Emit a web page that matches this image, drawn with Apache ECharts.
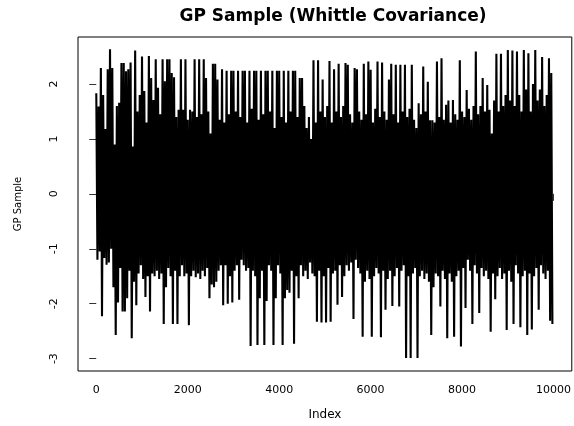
<!DOCTYPE html>
<html>
<head>
<meta charset="utf-8">
<script src="https://cdn.jsdelivr.net/npm/echarts@6/dist/echarts.min.js"></script>
<style>
  html, body { margin: 0; padding: 0; background: #fff; }
  #chart { width: 574px; height: 426px; }
</style>
</head>
<body>
<div id="chart"></div>
<script>
// upper turning points of the sample, read left to right off the picture
const highs = [
  1.83, 1.59, 2.29, 1.80, 1.18, 2.27, 2.63, 2.29, 0.90, 1.60,
  1.66, 2.38, 2.38, 2.23, 2.27, 2.39, 0.86, 2.61, 1.50, 1.80,
  2.50, 1.87, 1.30, 2.51, 2.11, 1.71, 2.45, 1.93, 1.45, 2.45,
  2.05, 2.45, 2.45, 2.20, 2.12, 1.40, 1.53, 2.45, 1.53, 2.45,
  1.35, 1.53, 1.50, 2.45, 1.40, 2.45, 1.45, 2.45, 2.11, 1.50,
  1.10, 2.37, 2.37, 2.08, 1.35, 2.27, 1.30, 2.24, 1.45, 2.24,
  2.24, 1.50, 2.24, 1.40, 2.24, 2.24, 1.30, 2.24, 1.55, 2.24,
  2.24, 1.35, 2.24, 1.45, 2.24, 2.24, 1.50, 2.24, 1.20, 2.24,
  2.24, 1.40, 2.24, 1.30, 2.24, 1.50, 2.24, 2.24, 1.40, 2.11,
  2.11, 1.60, 1.20, 1.40, 1.00, 2.43, 1.30, 2.43, 1.50, 2.08,
  1.40, 1.60, 2.42, 1.30, 2.27, 1.50, 2.37, 1.40, 1.60, 2.38,
  2.35, 1.45, 1.30, 2.29, 2.27, 1.50, 1.35, 2.37, 1.45, 2.41,
  2.26, 1.30, 1.55, 2.41, 1.40, 2.39, 1.50, 1.35, 2.08, 2.37,
  1.45, 2.35, 1.30, 2.35, 1.50, 2.35, 1.40, 1.55, 2.35, 1.35,
  1.20, 1.65, 1.45, 2.32, 1.50, 2.04, 1.34, 1.34, 1.30, 2.41,
  1.40, 2.47, 1.35, 1.62, 1.70, 1.30, 1.71, 1.45, 1.35, 2.43,
  1.50, 1.40, 1.89, 1.55, 1.35, 1.60, 2.59, 1.45, 1.60, 2.11,
  1.50, 1.98, 1.53, 1.10, 1.70, 2.55, 1.50, 2.55, 1.60, 1.80,
  2.62, 1.70, 2.61, 1.60, 2.59, 1.80, 1.50, 2.62, 1.90, 2.56,
  1.50, 2.00, 2.62, 1.70, 1.90, 2.49, 1.60, 1.80, 2.47, 2.20
];
// lower turning points, same order
const lows = [
  -1.20, -1.05, -2.23, -1.17, -1.29, -1.25, -1.00, -1.70, -2.57, -1.98,
  -1.35, -2.14, -2.14, -1.90, -1.40, -2.63, -1.60, -2.03, -1.45, -1.30,
  -1.55, -1.88, -1.50, -2.14, -1.45, -1.50, -1.40, -1.55, -1.45, -2.37,
  -1.70, -1.35, -1.50, -2.37, -1.40, -2.37, -1.50, -1.30, -1.50, -1.45,
  -2.39, -1.50, -1.40, -1.52, -1.45, -1.55, -1.40, -1.50, -1.35, -1.90,
  -1.65, -1.70, -1.60, -1.40, -1.30, -2.03, -1.30, -2.00, -1.50, -1.98,
  -1.40, -1.30, -1.93, -1.20, -1.30, -1.40, -1.35, -2.77, -1.40, -1.50,
  -2.75, -1.90, -1.40, -2.75, -1.95, -1.30, -1.40, -2.75, -1.90, -1.30,
  -1.45, -2.75, -1.90, -1.75, -1.80, -1.40, -2.73, -1.50, -1.90, -1.30,
  -1.50, -1.40, -1.55, -1.25, -1.45, -1.50, -2.33, -1.40, -2.34, -1.50,
  -2.34, -1.35, -2.33, -1.45, -1.40, -2.02, -1.30, -1.88, -1.50, -1.30,
  -1.40, -1.25, -2.28, -1.20, -1.35, -1.45, -2.60, -1.60, -1.40, -1.55,
  -2.60, -1.50, -1.35, -1.45, -2.61, -1.40, -2.11, -1.55, -1.40, -2.04,
  -1.50, -1.35, -2.05, -1.40, -1.30, -2.99, -1.50, -2.99, -1.45, -1.35,
  -2.99, -1.50, -1.40, -1.55, -1.45, -1.60, -2.57, -1.70, -1.45, -1.50,
  -2.05, -1.40, -1.55, -2.63, -1.45, -1.60, -2.60, -1.50, -1.40, -2.78,
  -1.35, -2.08, -1.20, -1.40, -2.37, -1.30, -1.45, -2.17, -1.35, -1.50,
  -1.40, -1.55, -2.51, -1.45, -1.92, -1.50, -1.35, -1.55, -1.45, -2.48,
  -1.40, -1.60, -2.37, -1.30, -1.45, -2.43, -1.50, -1.40, -2.57, -1.45,
  -2.47, -1.50, -1.35, -2.11, -1.30, -1.45, -1.55, -1.40, -2.31, -2.37
];
const xTicks = [0, 2000, 4000, 6000, 8000, 10000];
const yTicks = [-3, -2, -1, 0, 1, 2];
const step = 25; // index gap between turning points

const seriesData = [];
for (let i = 0; i < highs.length; i++) {
  seriesData.push([1 + 2 * i * step, highs[i]]);
  seriesData.push([1 + (2 * i + 1) * step, lows[i]]);
}

const font = 'DejaVu Sans';
const option = {
  animation: false,
  title: {
    text: 'GP Sample (Whittle Covariance)',
    left: 328,
    top: 3,
    textAlign: 'center',
    textStyle: { fontFamily: font, fontWeight: 'bold', fontSize: 17, color: '#000' },
  },
  grid: {
    left: 78,
    top: 37,
    right: 2,
    bottom: 55,
    show: true,
    borderColor: '#000',
    borderWidth: 1,
  },
  xAxis: {
    type: 'value',
    min: -399,
    max: 10400,
    name: 'Index',
    nameLocation: 'middle',
    nameGap: 38,
    nameTextStyle: { fontFamily: font, fontSize: 12, color: '#000' },
    axisLine: { show: false },
    axisTick: { show: true, length: 7, customValues: xTicks, lineStyle: { color: '#333' } },
    axisLabel: {
      customValues: xTicks,
      margin: 14,
      fontFamily: font,
      fontSize: 11,
      color: '#000',
      formatter: (v) => String(v),
    },
    splitLine: { show: false },
  },
  yAxis: {
    type: 'value',
    min: -3.225,
    max: 2.855,
    name: 'GP Sample',
    nameLocation: 'middle',
    nameGap: 55,
    nameTextStyle: { fontFamily: font, fontSize: 10, color: '#000' },
    axisLine: { show: false },
    axisTick: { show: true, length: 7, customValues: yTicks, lineStyle: { color: '#333' } },
    axisLabel: {
      customValues: yTicks,
      rotate: 90,
      margin: 18,
      fontFamily: font,
      fontSize: 11,
      color: '#000',
      formatter: (v) => String(v),
    },
    splitLine: { show: false },
  },
  series: [
    {
      type: 'line',
      data: seriesData,
      showSymbol: false,
      symbol: 'none',
      lineStyle: { color: '#000', width: 2.1, join: 'bevel' },
    },
  ],
};
const myChart = echarts.init(document.getElementById('chart'));
myChart.setOption(option);
</script>
</body>
</html>
